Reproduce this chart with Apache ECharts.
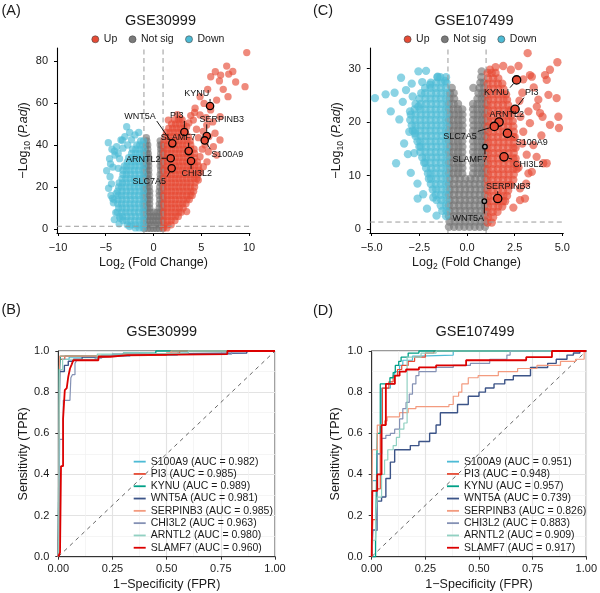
<!DOCTYPE html>
<html><head><meta charset="utf-8">
<script src="https://cdn.jsdelivr.net/npm/echarts@6/dist/echarts.min.js"></script>
<style>html,body{margin:0;padding:0;background:#fff}#c{width:600px;height:593px}</style>
</head><body><div id="c"></div>
<script>
const FONT = '"Liberation Sans", Arial, Helvetica, sans-serif';

// ================= DATA =================
// Volcano A (GSE30999): rows are [ -log10(Padj), log2FC, log2FC, ... ]
const volcA_notSig_rows = [
 [0.3,-0.95,-0.6,-0.3,0,0.3,0.6,0.95],[2,-0.9,-0.55,-0.2,0.15,0.5,0.85],[4,-0.95,-0.65,-0.35,-0.05,0.25,0.55,0.9],
 [6,-0.9,-0.6,-0.3,0,0.3,0.6,0.9],[8,-0.95,-0.65,-0.35,0.05,0.4,0.7,0.95],[10,-0.9,-0.6,-0.4,0.6,0.9],
 [12,-0.95,-0.65,-0.4,0.6,0.85],[14,-0.9,-0.6,-0.4,0.65,0.95],[16,-0.95,-0.65,-0.4,0.6,0.9],[18,-0.9,-0.6,-0.4,0.6,0.85],
 [20,-0.95,-0.65,-0.45,0.65,0.95],[22,-0.9,-0.7,-0.5,0.7,0.9],[24,-0.95,-0.7,-0.5,0.7,0.95],[26,-0.9,-0.65,-0.5,0.7,0.9],
 [28,-0.95,-0.7,-0.5,0.75,0.95],[30,-0.9,-0.7,-0.5,0.7,0.9],[32,-0.95,-0.7,-0.5,0.75,0.95],[34,-0.9,-0.65,-0.5,0.7,0.9],
 [36,-0.95,-0.7,-0.55,0.75,0.95],[38,-0.85,-0.6,0.75,0.9],[40,-0.8,-0.6,0.7,0.85],[42,-0.7,0.7],[43.5,-0.75]
];
const volcA_down_rows = [
 [0.5,-1.1,-1.5,-1.9],[2,-1.05,-1.45,-1.9,-2.35,-2.75],[4,-1.1,-1.5,-1.95,-2.4,-2.85,-3.2],
 [6,-1.05,-1.45,-1.9,-2.35,-2.8,-3.25,-3.55],[8,-1.1,-1.55,-2.0,-2.45,-2.9,-3.3,-3.8],[10,-1.05,-1.5,-1.95,-2.4,-2.85,-3.3,-3.65],
 [12,-1.1,-1.55,-2.0,-2.45,-2.9,-3.35,-3.75],[14,-1.05,-1.5,-1.95,-2.4,-2.85,-3.3,-3.7,-4.15],[16,-1.1,-1.55,-2.0,-2.45,-2.9,-3.35,-3.7],
 [18,-1.05,-1.5,-1.95,-2.4,-2.85,-3.3,-3.75],[20,-1.1,-1.55,-2.0,-2.45,-2.9,-3.35,-3.65],[22,-1.05,-1.5,-1.95,-2.4,-2.85,-3.25,-3.6],
 [24,-1.1,-1.55,-2.0,-2.45,-2.9,-3.3],[26,-1.05,-1.5,-1.95,-2.4,-2.85,-3.2],[28,-1.1,-1.55,-2.0,-2.45,-2.85,-3.2],
 [30,-1.05,-1.5,-1.95,-2.35,-2.8,-3.05],[32,-1.1,-1.55,-1.95,-2.35,-2.75],[34,-1.05,-1.45,-1.85,-2.25,-2.6],
 [36,-1.1,-1.5,-1.9,-2.3],[38,-1.05,-1.45,-1.85,-2.2],[40,-1.1,-1.45,-1.75],[42,-1.05,-1.35]
];
const volcA_down_pts = [
 [-4.73,41.1],[-2.81,48.7],[-1.94,44.8],[-3.86,39.2],[-4.03,35.2],[-4.9,27.8],[-4.55,24.9],[-4.7,19.4],[-4.2,12.5],
 [-3.95,7.8],[-4.5,31],[-3.25,42.3],[-2.5,46],[-4.25,29.5],[-4.4,21.5],[-3.9,17],[-3.0,44],[-4.35,38],[-3.55,33.5],
 [-2.3,42.5],[-1.55,46],[-4.1,4.5],[-3.6,2.5],[-2.5,1.2],[-4.45,16],[-3.7,36],[-3.2,38.5],[-2.7,40],[-4.6,33.5],
 [-4.3,14.6],[-3.5,5.1],[-3.68,28.9],[-4.1,37.1],[-3.4,42.4]
];
const volcA_up_rows = [
 [0.5,1.05,1.4],[2,1.1,1.5,1.85],[4,1.05,1.45,1.85,2.25],[6,1.1,1.5,1.9,2.3,2.6],[8,1.05,1.45,1.85,2.25,2.65,2.9],
 [10,1.1,1.5,1.9,2.3,2.7,3.1],[12,1.05,1.45,1.85,2.25,2.65,3.05,3.4],[14,1.1,1.5,1.9,2.3,2.7,3.1,3.5,3.75],
 [16,1.05,1.45,1.85,2.25,2.65,3.05,3.45,3.85,4.05],[18,1.1,1.5,1.9,2.3,2.7,3.1,3.5,3.9,4.2],
 [20,1.05,1.45,1.85,2.25,2.65,3.05,3.45,3.85,4.3],[22,1.1,1.5,1.9,2.3,2.7,3.1,3.5,3.9,4.35],
 [24,1.05,1.45,1.85,2.25,2.65,3.05,3.45,3.85,4.25,4.55],[26,1.1,1.5,1.9,2.3,2.7,3.1,3.5,3.9,4.3,4.65],
 [28,1.05,1.45,1.85,2.25,2.65,3.05,3.45,3.85,4.25,4.75],[30,1.1,1.5,1.9,2.3,2.7,3.1,3.5,3.9,4.3,4.7],
 [32,1.05,1.45,1.85,2.25,2.65,3.05,3.45,3.85,4.25,4.6],[34,1.1,1.5,1.9,2.3,2.7,3.1,3.5,3.9,4.3],
 [36,1.05,1.45,1.85,2.25,2.65,3.05,3.45,3.85,4.3],[38,1.1,1.5,1.9,2.3,2.7,3.1,3.5,3.9,4.25],
 [40,1.05,1.45,1.85,2.25,2.65,3.05,3.45,3.9],[42,1.1,1.5,1.9,2.3,2.7,3.1,3.5,3.85],
 [44,1.2,1.6,2.0,2.4,2.8,3.2,3.65],[46,1.35,1.75,2.15,2.55,2.95,3.35],[48,1.6,2.0,2.4,2.8,3.2],[50,1.9,2.3,2.7,3.1],[52,2.2,2.6,3.0]
];
const volcA_up_pts = [
 [9.76,84],[9.58,67.8],[8.6,70],[7.66,77.6],[7.87,73.8],[7.03,73.3],[6.47,74.9],[5.99,72.5],[7.8,63],[6.61,61.4],
 [5.67,66.5],[4.87,63],[5.29,59.8],[4.35,57.5],[5.98,56.7],[6.97,53.5],[4.87,54.3],[4.17,51.9],[3.47,48.7],[5.57,49.5],
 [6.44,45.6],[6.96,42.4],[6.27,39.2],[5.74,36.8],[4.87,34.4],[6.61,35.2],[5.22,29.7],[3.47,8.3],[4.69,23.3],[2.77,52.7],
 [1.55,51.9],[5.2,46.5],[4.7,43.5],[5.4,40],[5.1,38],[5.6,32],[4.9,27],[4.3,55.5],[3.9,54],[6.2,51],[5.8,44],[4.5,47.5],
 [3.7,50.5],[2.5,54.5],[7.3,66.5],[6.9,70.5],[8.3,75],[5.5,53]
];
const volcA_genes = ['KYNU','PI3','SERPINB3','S100A9','WNT5A','SLAMF7','ARNTL2','CHI3L2','SLC7A5'];
const volcA_geneFC = [5.92,3.23,5.57,5.36,1.97,3.68,1.8,3.93,1.9];
const volcA_geneP  = [58.6,46.2,44.3,42.2,40.8,37.1,33.7,32.4,28.9];
const volcA_xTicks = [-10,-5,0,5,10];
const volcA_yTicks = [0,20,40,60,80];

// Volcano C (GSE107499)
const volcC_notSig_rows = [
 [0.4,-0.95,-0.68,-0.41,-0.14,0.13,0.4,0.67,0.94],[1.4,-0.92,-0.65,-0.38,-0.11,0.16,0.43,0.7,0.96],
 [2.4,-0.95,-0.68,-0.41,-0.14,0.13,0.4,0.67,0.94],[3.4,-0.92,-0.65,-0.38,-0.11,0.16,0.43,0.7,0.96],
 [4.4,-0.95,-0.68,-0.41,-0.14,0.13,0.4,0.67,0.94],[5.4,-0.92,-0.65,-0.38,-0.11,0.16,0.43,0.7,0.96],
 [6.4,-0.95,-0.68,-0.41,-0.14,0.13,0.4,0.67,0.94],[7.4,-0.92,-0.65,-0.38,-0.11,0.16,0.43,0.7,0.96],
 [8.4,-0.95,-0.68,-0.41,-0.14,0.13,0.4,0.67,0.94],[9.4,-0.92,-0.65,-0.38,-0.1,0.18,0.43,0.7,0.96],
 [10.4,-0.95,-0.7,-0.47,-0.25,0.32,0.55,0.78,0.96],[11.4,-0.92,-0.68,-0.45,-0.24,0.34,0.57,0.8,0.95],
 [12.4,-0.95,-0.7,-0.47,-0.25,0.32,0.55,0.78,0.96],[13.4,-0.92,-0.68,-0.45,-0.24,0.34,0.57,0.8,0.95],
 [14.4,-0.95,-0.7,-0.47,-0.25,0.32,0.55,0.78,0.96],[15.4,-0.92,-0.68,-0.45,-0.24,0.34,0.57,0.8,0.95],
 [16.4,-0.95,-0.7,-0.47,-0.25,0.32,0.55,0.78,0.96],[17.4,-0.92,-0.68,-0.45,-0.24,0.34,0.57,0.8,0.95],
 [18.4,-0.95,-0.7,-0.47,-0.25,0.32,0.55,0.78,0.96],[19.4,-0.92,-0.68,-0.45,-0.24,0.34,0.57,0.8,0.95],
 [20.4,-0.95,-0.7,-0.47,-0.25,0.32,0.55,0.78,0.96],[21.4,-0.92,-0.68,-0.45,-0.24,0.34,0.57,0.8,0.95],
 [22.4,-0.95,-0.7,-0.47,-0.25,0.32,0.55,0.78,0.96],[23.4,-0.95,-0.7,-0.47,0.32,0.55,0.78,0.96],
 [24.4,-0.92,-0.68,0.55,0.78,0.95],[25.4,-0.9,-0.7,0.6,0.8,0.95],[26.4,-0.8,0.33,0.65,0.9],[27.4,0.7,0.88],[28.4,0.75],[29.5,0.77]
];
const volcC_down_rows = [
 [2.4,-1.1],[3.4,-1.08,-1.3],[4.4,-1.1,-1.38],[5.4,-1.08,-1.35,-1.6],[6.4,-1.1,-1.37,-1.64],[7.4,-1.08,-1.35,-1.62,-1.8],
 [8.4,-1.1,-1.37,-1.64,-1.9],[9.4,-1.08,-1.35,-1.62,-1.89,-2.0],[10.4,-1.1,-1.37,-1.64,-1.91,-2.05],
 [11.4,-1.08,-1.35,-1.62,-1.89,-2.15],[12.4,-1.1,-1.37,-1.64,-1.91,-2.18,-2.25],[13.4,-1.08,-1.35,-1.62,-1.89,-2.16,-2.35],
 [14.4,-1.1,-1.37,-1.64,-1.91,-2.18,-2.45],[15.4,-1.08,-1.35,-1.62,-1.89,-2.16,-2.43,-2.5],
 [16.4,-1.1,-1.37,-1.64,-1.91,-2.18,-2.45,-2.6],[17.4,-1.08,-1.35,-1.62,-1.89,-2.16,-2.43,-2.7],
 [18.4,-1.1,-1.37,-1.64,-1.91,-2.18,-2.45,-2.72,-2.85],[19.4,-1.08,-1.35,-1.62,-1.89,-2.16,-2.43,-2.7,-2.9],
 [20.4,-1.1,-1.37,-1.64,-1.91,-2.18,-2.45,-2.72,-2.98],[21.4,-1.08,-1.35,-1.62,-1.89,-2.16,-2.43,-2.7,-2.95],
 [22.4,-1.1,-1.37,-1.64,-1.91,-2.18,-2.45,-2.75],[23.4,-1.08,-1.35,-1.62,-1.89,-2.16,-2.43,-2.7],
 [24.4,-1.1,-1.37,-1.64,-1.91,-2.18,-2.5],[25.4,-1.08,-1.35,-1.62,-1.89,-2.2,-2.4],[26.4,-1.1,-1.37,-1.64,-1.91,-2.2],
 [27.4,-1.08,-1.35,-1.62,-1.9],[28.4,-1.1,-1.4,-1.55]
];
const volcC_down_pts = [
 [-4.83,24.5],[-4.27,25.2],[-4.0,22],[-3.46,28.3],[-3.72,12.3],[-2.55,29.5],[-2.15,29.6],[-2.59,5.7],[-1.77,5.9],
 [-3.37,23.8],[-2.99,22],[-2.77,14.2],[-3.03,18.2],[-2.55,22.9],[-1.54,28.5],[-1.15,27.7],[-1.94,27],[-2.73,17.9],
 [-3.2,26],[-2.9,27.2],[-3.55,20.5],[-3.3,16],[-2.95,10.5],[-2.6,8.5],[-2.3,6.5],[-3.1,14],[-2.35,27.5],[-3.8,25.5],
 [-2.1,3.8],[-1.6,2.5],[-2.85,24.8]
];
const volcC_up_rows = [
 [1.2,1.08,1.3],[2.2,1.1,1.37],[3.2,1.08,1.35,1.6],[4.2,1.1,1.37,1.64,1.85],[5.2,1.08,1.35,1.62,1.89,2.0],
 [6.2,1.1,1.37,1.64,1.91,2.1],[7.2,1.08,1.35,1.62,1.89,2.16],[8.2,1.1,1.37,1.64,1.91,2.18,2.3],
 [9.2,1.08,1.35,1.62,1.89,2.16,2.43],[10.2,1.1,1.37,1.64,1.91,2.18,2.45],[11.2,1.08,1.35,1.62,1.89,2.16,2.43,2.6],
 [12.2,1.1,1.37,1.64,1.91,2.18,2.45,2.6],[13.2,1.08,1.35,1.62,1.89,2.16,2.43,2.55],[14.2,1.1,1.37,1.64,1.91,2.18,2.45],
 [15.2,1.08,1.35,1.62,1.89,2.16,2.43,2.55],[16.2,1.1,1.37,1.64,1.91,2.18,2.45],[17.2,1.08,1.35,1.62,1.89,2.16,2.43,2.5],
 [18.2,1.1,1.37,1.64,1.91,2.18,2.45],[19.2,1.08,1.35,1.62,1.89,2.16,2.43],[20.2,1.1,1.37,1.64,1.91,2.18,2.4],
 [21.2,1.08,1.35,1.62,1.89,2.16,2.3],[22.2,1.1,1.37,1.64,1.91,2.18,2.3],[23.2,1.08,1.35,1.62,1.89,2.16],
 [24.2,1.1,1.37,1.64,1.91,2.1],[25.2,1.08,1.35,1.62,1.89,2.05],[26.2,1.1,1.37,1.64,1.91],[27.2,1.08,1.35,1.62,1.85],
 [28.2,1.1,1.37,1.64],[29.2,1.08,1.3,1.5]
];
const volcC_up_pts = [
 [3.18,32.9],[4.74,31.2],[4.35,29.8],[4.09,28.8],[3.3,28.8],[4.18,27.9],[4.7,24.5],[4.27,25.1],[3.74,24.2],[4.79,21.0],
 [4.35,19.5],[4.82,18.9],[3.83,21.7],[2.78,5.4],[3.22,10.4],[4.18,12.3],[3.65,13.5],[3.4,28.5],[2.95,28],[3.66,22.9],
 [3.22,22],[3.96,21],[3.3,19.8],[2.95,18.2],[3.48,15.7],[3.13,13.9],[4.0,12.3],[3.4,10.7],[2.78,7.6],[3.04,5.7],
 [2.43,4.0],[2.9,25.5],[3.5,26.5],[2.7,30.5],[2.3,29.8],[1.9,30.5],[1.5,30.3],[1.2,29.8],[2.9,16],[3.1,8.5],[2.7,11.5],
 [3.9,17.5],[2.8,21],[2.75,24]
];
const volcC_genes = ['KYNU','PI3','ARNTL2','SLC7A5','S100A9','SLAMF7','CHI3L2','SERPINB3','WNT5A'];
const volcC_geneFC = [2.6,2.52,1.68,1.43,2.12,0.94,1.94,1.61,0.91];
const volcC_geneP  = [27.9,22.4,20.0,19.2,17.9,15.4,13.5,5.7,5.2];
const volcC_xTicks = [-5,-2.5,0,2.5,5];
const volcC_yTicks = [0,10,20,30];

const fcCut = 1;
const padjCut = 0.05;

// ROC curves: [FPR, TPR reached at that FPR]
const rocGenes = ['S100A9','PI3','KYNU','WNT5A','SERPINB3','CHI3L2','ARNTL2','SLAMF7'];
const aucB = ['0.982','0.985','0.989','0.981','0.985','0.963','0.980','0.960'];
const aucD = ['0.951','0.948','0.957','0.739','0.826','0.883','0.909','0.917'];
const rocB_S100A9 = [[0,0],[0.003,0.55],[0.008,0.96],[0.05,0.97],[0.2,0.98],[0.55,0.99],[0.6,1],[1,1]];
const rocB_PI3 = [[0,0],[0.002,0.2],[0.006,0.96],[0.03,0.975],[0.18,0.98],[0.5,0.99],[0.56,1],[1,1]];
const rocB_KYNU = [[0,0],[0.004,0.91],[0.01,0.975],[0.3,0.99],[0.45,1],[1,1]];
const rocB_WNT5A = [[0,0],[0.003,0.47],[0.006,0.9],[0.028,0.93],[0.046,0.95],[0.07,0.96],[0.11,0.97],[0.2,0.975],[0.25,0.985],[0.35,0.99],[0.87,1],[1,1]];
const rocB_SERPINB3 = [[0,0],[0.001,0.2],[0.003,0.46],[0.006,0.975],[0.3,0.985],[0.5,0.99],[0.52,1],[1,1]];
const rocB_CHI3L2 = [[0,0],[0.003,0.2],[0.006,0.57],[0.023,0.76],[0.054,0.77],[0.058,0.87],[0.065,0.885],[0.077,0.94],[0.085,0.955],[0.17,0.965],[0.2,0.975],[0.33,0.985],[0.8,1],[1,1]];
const rocB_ARNTL2 = [[0,0],[0.002,0.1],[0.005,0.91],[0.02,0.96],[0.18,0.985],[0.38,0.99],[0.6,1],[1,1]];
const rocB_SLAMF7 = [[0,0],[0.008,0.02],[0.0125,0.44],[0.022,0.67],[0.03,0.81],[0.039,0.82],[0.046,0.875],[0.054,0.915],[0.062,0.935],[0.069,0.955],[0.185,0.972],[0.24,0.98],[0.32,0.985],[0.78,1],[1,1]];
const rocD_S100A9 = [[0,0],[0.003,0.37],[0.026,0.5],[0.046,0.82],[0.087,0.84],[0.107,0.9],[0.13,0.93],[0.145,0.955],[0.19,0.975],[0.22,0.98],[0.38,1],[1,1]];
const rocD_PI3 = [[0,0],[0.005,0.18],[0.026,0.33],[0.04,0.64],[0.05,0.82],[0.08,0.85],[0.1,0.88],[0.12,0.91],[0.14,0.93],[0.17,0.95],[0.2,0.97],[0.25,0.99],[0.29,1],[1,1]];
const rocD_KYNU = [[0,0],[0.018,0.08],[0.026,0.6],[0.04,0.84],[0.085,0.87],[0.1,0.895],[0.11,0.93],[0.126,0.95],[0.137,0.97],[0.17,0.99],[0.22,1],[1,1]];
const rocD_WNT5A = [[0,0],[0.005,0.13],[0.026,0.27],[0.046,0.29],[0.066,0.38],[0.087,0.46],[0.107,0.52],[0.18,0.54],[0.22,0.56],[0.27,0.6],[0.3,0.64],[0.32,0.7],[0.4,0.74],[0.45,0.78],[0.5,0.8],[0.53,0.82],[0.57,0.84],[0.62,0.86],[0.66,0.88],[0.74,0.92],[0.82,0.94],[0.86,0.96],[0.91,0.98],[0.94,0.99],[0.97,1],[1,1]];
const rocD_SERPINB3 = [[0,0],[0.003,0.52],[0.026,0.64],[0.06,0.66],[0.072,0.68],[0.13,0.7],[0.17,0.72],[0.206,0.73],[0.36,0.74],[0.38,0.78],[0.405,0.8],[0.42,0.84],[0.45,0.87],[0.496,0.88],[0.59,0.9],[0.68,0.915],[0.77,0.93],[0.88,0.95],[0.95,0.96],[0.99,1],[1,1]];
const rocD_CHI3L2 = [[0,0],[0.003,0.13],[0.026,0.5],[0.046,0.575],[0.066,0.59],[0.087,0.6],[0.107,0.62],[0.13,0.67],[0.145,0.72],[0.16,0.75],[0.175,0.79],[0.19,0.84],[0.206,0.88],[0.22,0.9],[0.3,0.92],[0.38,0.93],[0.46,0.94],[0.55,0.96],[0.63,0.98],[0.645,1],[1,1]];
const rocD_ARNTL2 = [[0,0],[0.005,0.08],[0.018,0.2],[0.026,0.29],[0.046,0.4],[0.06,0.47],[0.075,0.52],[0.1,0.54],[0.115,0.58],[0.13,0.62],[0.15,0.65],[0.165,0.97],[0.23,0.99],[0.3,1],[1,1]];
const rocD_SLAMF7 = [[0,0],[0.003,0.32],[0.026,0.4],[0.046,0.64],[0.066,0.84],[0.108,0.88],[0.13,0.9],[0.16,0.91],[0.22,0.92],[0.3,0.93],[0.44,0.955],[0.72,0.97],[0.84,1],[1,1]];
const rocB_curves = [rocB_S100A9,rocB_PI3,rocB_KYNU,rocB_WNT5A,rocB_SERPINB3,rocB_CHI3L2,rocB_ARNTL2,rocB_SLAMF7];
const rocD_curves = [rocD_S100A9,rocD_PI3,rocD_KYNU,rocD_WNT5A,rocD_SERPINB3,rocD_CHI3L2,rocD_ARNTL2,rocD_SLAMF7];

// ================= STYLE / LAYOUT =================
const COL = {up:'#E64B35', down:'#4DBBD5', ns:'#737373'};
const rocColors = ['#4DBBD5','#E64B35','#00A087','#3C5488','#F39B7F','#8491B4','#91D1C2','#DC0000'];
const rocWidths = [1.2,1.2,1.3,1.4,1.2,1.2,1.2,1.8];
const labelOffsetA = {KYNU:[-13.3,-12], PI3:[-7.6,-16], SERPINB3:[15,-16.7], S100A9:[22.6,13.7], WNT5A:[-32.3,-27.3],
  SLAMF7:[-10.4,-13.3], ARNTL2:[-27.4,1], CHI3L2:[5.7,13], SLC7A5:[-22.4,13.4]};
const labelOffsetC = {KYNU:[-20,12.7], PI3:[16.7,-16.6], ARNTL2:[7.7,-7.3], SLC7A5:[-34.3,10], S100A9:[24.4,9.4],
  SLAMF7:[-15,12.6], CHI3L2:[24.3,7.3], SERPINB3:[10.6,-12.3], WNT5A:[-16,17.3]};
const smallGenesC = ['SLAMF7','WNT5A'];
const ext = {
  A:{xmin:-10.1,xmax:10.1,ymin:-1.9,ymax:86.2},
  C:{xmin:-5.1,xmax:5.05,ymin:-0.75,ymax:33.87}
};

// ================= BUILD =================
const rowsToPts = rows => rows.flatMap(r => r.slice(1).map(x => [x, r[0]]));
const minus = s => String(s).replace('-', '\u2212');
const mctx = document.createElement('canvas').getContext('2d');
function textW(t, size){ mctx.font = size + 'px ' + FONT; return mctx.measureText(t).width; }
const TXT = '#1a1a1a';

function volcAxes(gi, e, xt, yt, xfmt, yNameGap){
  const common = {gridIndex:gi, type:'value', splitLine:{show:false},
    axisLine:{show:true, onZero:false, lineStyle:{color:'#000', width:1.1}}};
  const x = Object.assign({}, common, {min:e.xmin, max:e.xmax,
    axisTick:{show:true, length:3, customValues:xt, lineStyle:{color:'#000'}},
    axisLabel:{customValues:xt, formatter:xfmt, fontSize:11, color:TXT, margin:9, fontFamily:FONT},
    name:'Log{s|2} (Fold Change)', nameLocation:'middle', nameGap:22,
    nameTextStyle:{fontSize:12.5, color:TXT, fontFamily:FONT, lineHeight:16,
      rich:{s:{fontSize:8.5, verticalAlign:'bottom', lineHeight:16, color:TXT, fontFamily:FONT}}}});
  const y = Object.assign({}, common, {min:e.ymin, max:e.ymax,
    axisTick:{show:true, length:3, customValues:yt, lineStyle:{color:'#000'}},
    axisLabel:{customValues:yt, fontSize:11, color:TXT, margin:9, fontFamily:FONT},
    name:'\u2212Log{s|10} ({i|P.adj})', nameLocation:'middle', nameGap:yNameGap, nameRotate:90,
    nameTextStyle:{fontSize:12.5, color:TXT, fontFamily:FONT, lineHeight:16,
      rich:{s:{fontSize:8.5, verticalAlign:'bottom', lineHeight:16, color:TXT, fontFamily:FONT},
            i:{fontSize:12.5, fontStyle:'italic', lineHeight:16, color:TXT, fontFamily:FONT}}}});
  return [x, y];
}
function rocAxes(gi, yNameGap){
  const common = {gridIndex:gi, type:'value', min:0, max:1,
    axisLine:{show:true, onZero:false, lineStyle:{color:'#333', width:1}},
    axisTick:{show:true, length:3, lineStyle:{color:'#333'}},
    splitLine:{show:true, lineStyle:{color:'#e3e3e3', width:1.2}},
    minorTick:{show:false, splitNumber:2},
    minorSplitLine:{show:true, lineStyle:{color:'#f1f1f1', width:0.7}},
    nameLocation:'middle', nameTextStyle:{fontSize:12.5, color:TXT, fontFamily:FONT, lineHeight:14}};
  const x = Object.assign({}, common, {interval:0.25, name:'1\u2212Specificity (FPR)', nameGap:21,
    axisLabel:{formatter:v=>v.toFixed(2), fontSize:11, color:TXT, margin:7, fontFamily:FONT}});
  const y = Object.assign({}, common, {interval:0.2, name:'Sensitivity (TPR)', nameGap:yNameGap, nameRotate:90,
    axisLabel:{formatter:v=>v.toFixed(1), fontSize:11, color:TXT, margin:9, fontFamily:FONT}});
  return [x, y];
}

function volcSeries(gi, e, nsRows, downRows, downPts, upRows, upPts, genes, gFC, gP, offsets, size, smallGenes){
  const base = {type:'scatter', xAxisIndex:gi, yAxisIndex:gi, silent:true, symbolSize:size, z:2};
  const out = [
    Object.assign({}, base, {name:'Not sig', data:rowsToPts(nsRows), itemStyle:{color:COL.ns, opacity:0.62}}),
    Object.assign({}, base, {name:'Down', data:rowsToPts(downRows).concat(downPts), itemStyle:{color:COL.down, opacity:0.65}}),
    Object.assign({}, base, {name:'Up', data:rowsToPts(upRows).concat(upPts), itemStyle:{color:COL.up, opacity:0.65}})
  ];
  const thr = -Math.log10(padjCut);
  const dash = {type:'line', xAxisIndex:gi, yAxisIndex:gi, silent:true, symbol:'none', z:3,
    lineStyle:{color:'#9a9a9a', width:1, type:[5,3.5]}};
  out.push(Object.assign({}, dash, {data:[[-fcCut,e.ymin],[-fcCut,e.ymax]]}));
  out.push(Object.assign({}, dash, {data:[[fcCut,e.ymin],[fcCut,e.ymax]]}));
  out.push(Object.assign({}, dash, {data:[[e.xmin,thr],[e.xmax,thr]]}));
  const gpts = genes.map((g,i)=>[gFC[i], gP[i]]);
  const isSmall = g => smallGenes.indexOf(g) >= 0;
  out.push({type:'scatter', xAxisIndex:gi, yAxisIndex:gi, silent:true, z:5,
    data: gpts.map((p,i)=>({value:p, symbolSize: isSmall(genes[i]) ? size*0.55 : size,
      itemStyle:{color: isSmall(genes[i]) ? '#9a9a9a' : COL.up, borderColor:'#000', borderWidth:1.3, opacity:1}}))});
  out.push({type:'custom', xAxisIndex:gi, yAxisIndex:gi, silent:true, z:6, clip:false,
    data: gpts,
    renderItem(params, api){
      const g = genes[params.dataIndex];
      const c = api.coord([api.value(0), api.value(1)]);
      const off = offsets[g];
      const tx = c[0]+off[0], ty = c[1]+off[1];
      const hw = textW(g, 9)/2 + 1, hh = 5;
      const bx = Math.max(tx-hw, Math.min(c[0], tx+hw));
      const by = Math.max(ty-hh, Math.min(c[1], ty+hh));
      const dx = bx-c[0], dy = by-c[1], d = Math.hypot(dx,dy);
      const r = (isSmall(g) ? size*0.55 : size)/2 + 0.6;
      const ch = [];
      if (d > r + 1.5) ch.push({type:'line', shape:{x1:c[0]+dx/d*r, y1:c[1]+dy/d*r, x2:bx, y2:by},
        style:{stroke:'#000', lineWidth:0.9}});
      ch.push({type:'text', x:tx, y:ty, style:{text:g, fill:'#111', fontSize:9, fontFamily:FONT,
        align:'center', verticalAlign:'middle', textAlign:'center', textVerticalAlign:'middle'}});
      return {type:'group', children:ch};
    }});
  return out;
}

function rocSeries(gi, curves, aucs){
  const out = [{type:'line', xAxisIndex:gi, yAxisIndex:gi, silent:true, symbol:'none', z:2, clip:false,
    data:[[0,0],[1,1]], lineStyle:{color:'#666', width:1, type:[4,4]}}];
  curves.forEach((pts,i)=>{
    out.push({type:'line', name:`${rocGenes[i]} (AUC = ${aucs[i]})`, xAxisIndex:gi, yAxisIndex:gi, silent:true,
      data:pts, step:'end', symbol:'none', clip:false, z:3,
      lineStyle:{color:rocColors[i], width:rocWidths[i]}, itemStyle:{color:rocColors[i]}});
  });
  return out;
}

const [axA_x, axA_y] = volcAxes(0, ext.A, volcA_xTicks, volcA_yTicks, v=>minus(v), 24);
const [axC_x, axC_y] = volcAxes(1, ext.C, volcC_xTicks, volcC_yTicks, v=>minus(v.toFixed(1)), 25);
const [axB_x, axB_y] = rocAxes(2, 26);
const [axD_x, axD_y] = rocAxes(3, 29);

const volcLegendData = [
  {name:'Up', itemStyle:{color:COL.up, opacity:1, borderColor:'#444', borderWidth:0.6}},
  {name:'Not sig', itemStyle:{color:'#7a7a7a', opacity:1, borderColor:'#444', borderWidth:0.6}},
  {name:'Down', itemStyle:{color:COL.down, opacity:1, borderColor:'#444', borderWidth:0.6}}
];
const volcLegend = (left) => ({data:volcLegendData, left, top:33.8, orient:'horizontal', icon:'circle',
  itemWidth:7, itemHeight:7, itemGap:11.5, padding:0, selectedMode:false,
  textStyle:{fontSize:10.5, color:TXT, fontFamily:FONT}});
const rocLegend = (left, aucs) => ({
  data:rocGenes.map((g,i)=>({name:`${g} (AUC = ${aucs[i]})`, icon:'rect',
    itemStyle:{color:rocColors[i], opacity:1, borderWidth:0}})),
  left, top:455.5, orient:'vertical', icon:'rect', itemWidth:12, itemHeight:1.8, itemGap:0, padding:0, selectedMode:false,
  textStyle:{fontSize:10.5, color:TXT, fontFamily:FONT, lineHeight:12.3}});

const txt = (x, y, text, size, align) => ({type:'text', x, y, silent:true,
  style:{text, fill:TXT, fontSize:size, fontFamily:FONT, align, verticalAlign:'middle', textAlign:align, textVerticalAlign:'middle'}});

const option = {
  animation:false,
  textStyle:{fontFamily:FONT},
  grid:[
    {left:57, top:48, width:193, height:185},
    {left:369.8, top:48, width:193.5, height:185},
    {left:58.3, top:351, width:216.7, height:205.7, show:true, borderColor:'#333', borderWidth:1},
    {left:371.7, top:351, width:218.3, height:205.7, show:true, borderColor:'#333', borderWidth:1}
  ],
  xAxis:[axA_x, axC_x, axB_x, axD_x],
  yAxis:[axA_y, axC_y, axB_y, axD_y],
  legend:[volcLegend(91.5), volcLegend(403.8), rocLegend(133.7, aucB), rocLegend(447, aucD)],
  graphic:[
    txt(1.5, 10.5, '(A)', 14.5, 'left'), txt(313, 10.5, '(C)', 14.5, 'left'),
    txt(1.5, 310, '(B)', 14.5, 'left'), txt(313, 311, '(D)', 14.5, 'left'),
    txt(160.5, 20.7, 'GSE30999', 14.5, 'center'), txt(474, 20.7, 'GSE107499', 14.5, 'center'),
    txt(161.7, 332, 'GSE30999', 14.5, 'center'), txt(475, 332, 'GSE107499', 14.5, 'center')
  ],
  series:[].concat(
    volcSeries(0, ext.A, volcA_notSig_rows, volcA_down_rows, volcA_down_pts, volcA_up_rows, volcA_up_pts,
      volcA_genes, volcA_geneFC, volcA_geneP, labelOffsetA, 7.3, []),
    volcSeries(1, ext.C, volcC_notSig_rows, volcC_down_rows, volcC_down_pts, volcC_up_rows, volcC_up_pts,
      volcC_genes, volcC_geneFC, volcC_geneP, labelOffsetC, 8.3, smallGenesC),
    rocSeries(2, rocB_curves, aucB),
    rocSeries(3, rocD_curves, aucD)
  )
};
const chart = echarts.init(document.getElementById('c'), null, {renderer:'canvas'});
chart.setOption(option);
</script></body></html>
